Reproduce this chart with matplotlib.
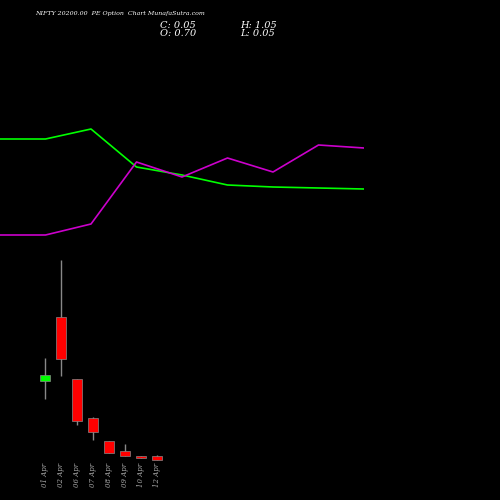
import matplotlib
matplotlib.use("Agg")
import matplotlib.pyplot as plt

# candle data (price units)
dates = ["01 Apr", "02 Apr", "06 Apr", "07 Apr", "08 Apr", "09 Apr", "10 Apr", "12 Apr"]
opens = [0.445, 0.765, 0.455, 0.260, 0.145, 0.095, 0.070, 0.070]
closes = [0.475, 0.555, 0.245, 0.190, 0.085, 0.070, 0.060, 0.050]
highs = [0.560, 1.050, 0.455, 0.265, 0.145, 0.130, 0.070, 0.075]
lows = [0.355, 0.470, 0.225, 0.150, 0.085, 0.070, 0.060, 0.050]

# overlay lines
line_x = [0, 1, 2, 3, 4, 5, 6, 7, 8]
green_line = [139, 139, 129, 167, 175, 185, 187, 188, 189]
magenta_line = [235, 235, 224, 162, 177, 158, 172, 145, 148]

fig = plt.figure(figsize=(5, 5), dpi=100, facecolor="black")

# top axes for the lines
ax_l = fig.add_axes([0, 0, 0.728, 1])
ax_l.set_facecolor("none")
ax_l.plot(line_x, green_line, color="#00ff00", lw=1.2)
ax_l.plot(line_x, magenta_line, color="#cc00cc", lw=1.2)
ax_l.set_xlim(0, 8)
ax_l.set_ylim(500, 0)
ax_l.axis("off")

# candle axes
ax = fig.add_axes([0.068, 0.06, 0.262, 0.44])
ax.set_facecolor("none")
for i in range(len(dates)):
    col = "#00ff00" if closes[i] >= opens[i] else "#ff0000"
    ax.vlines(i, lows[i], highs[i], color="#888888", lw=1)
    lo = min(opens[i], closes[i])
    h = max(abs(closes[i] - opens[i]), 0.008)
    ax.bar(i, h, bottom=lo, width=0.6, color=col, edgecolor="#888888", lw=0.5, zorder=3)
ax.set_xlim(-0.7, 7.5)
ax.set_ylim(0.0, 1.1)
ax.axis("off")
for i, d in enumerate(dates):
    ax.text(i, 0.035, d, rotation=90, color="#aaaaaa", fontsize=5, ha="center", va="top",
            family="DejaVu Serif", style="italic")

fig.text(0.07, 0.973, "NIFTY 20200.00  PE Option  Chart MunafaSutra.com", color="white",
         fontsize=4.5, family="DejaVu Serif", style="italic", va="center")
fig.text(0.32, 0.95, "C: 0.05", color="white", fontsize=7, family="DejaVu Serif", style="italic", va="center")
fig.text(0.32, 0.932, "O: 0.70", color="white", fontsize=7, family="DejaVu Serif", style="italic", va="center")
fig.text(0.48, 0.95, "H: 1.05", color="white", fontsize=7, family="DejaVu Serif", style="italic", va="center")
fig.text(0.48, 0.932, "L: 0.05", color="white", fontsize=7, family="DejaVu Serif", style="italic", va="center")

fig.savefig("out.png", dpi=100, facecolor="black")
